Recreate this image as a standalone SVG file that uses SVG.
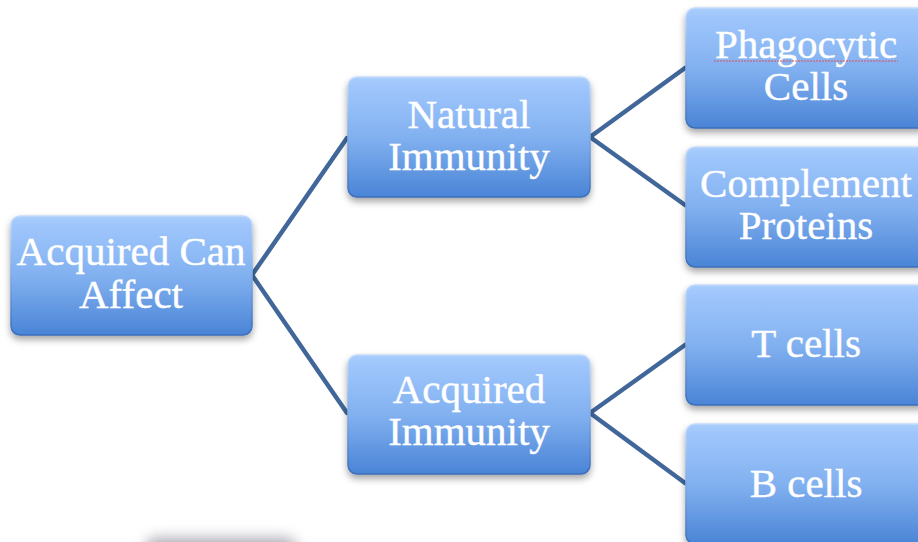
<svg xmlns="http://www.w3.org/2000/svg" width="918" height="542" viewBox="0 0 918 542">
  <defs>
    <linearGradient id="fillG" x1="0" y1="0" x2="0" y2="1">
      <stop offset="0" stop-color="#a9cdfd"/>
      <stop offset="0.08" stop-color="#9fc6fc"/>
      <stop offset="0.5" stop-color="#82b1f0"/>
      <stop offset="1" stop-color="#4a84d6"/>
    </linearGradient>
    <linearGradient id="edgeG" x1="0" y1="0" x2="0" y2="1">
      <stop offset="0" stop-color="#c4dcfb"/>
      <stop offset="0.5" stop-color="#7ea9e4"/>
      <stop offset="1" stop-color="#3a6db8"/>
    </linearGradient>
    <filter id="shadow" x="-10%" y="-10%" width="120%" height="130%">
      <feDropShadow dx="0" dy="4" stdDeviation="3.5" flood-color="#000" flood-opacity="0.35"/>
    </filter>
    <filter id="blur" x="-40%" y="-150%" width="180%" height="400%">
      <feGaussianBlur stdDeviation="7"/>
    </filter>
  </defs>
  <style>
    .box { fill: url(#fillG); stroke: url(#edgeG); stroke-width: 1.5; filter: url(#shadow); }
    .lbl { font-family: "Liberation Serif", "Times New Roman", serif; font-size: 41px; fill: #ffffff; stroke: #ffffff; stroke-width: 0.4; text-anchor: middle; }
    .conn { stroke: #41679a; stroke-width: 4.5; fill: none; stroke-linecap: round; stroke-linejoin: round; }
  </style>

  <rect x="0" y="0" width="918" height="542" fill="#ffffff"/>

  <!-- offscreen shadow at bottom -->
  <rect x="145" y="538" width="152" height="30" rx="12" fill="#7d7d8c" opacity="0.65" filter="url(#blur)"/>

  <g id="connectors">
    <polyline class="conn" points="347,138 252,275 347,413"/>
    <polyline class="conn" points="685,68 590,137 685,205"/>
    <polyline class="conn" points="685,345 590,413 685,483"/>
  </g>

  <g id="root">
    <rect class="box" x="11" y="216" width="241" height="119" rx="9"/>
    <text class="lbl" x="131" y="265">Acquired Can</text>
    <text class="lbl" x="131" y="308">Affect</text>
  </g>

  <g id="natural">
    <rect class="box" x="348" y="77" width="242" height="120" rx="9"/>
    <text class="lbl" x="469" y="128">Natural</text>
    <text class="lbl" x="469" y="170">Immunity</text>
  </g>

  <g id="acquired">
    <rect class="box" x="348" y="355" width="242" height="119" rx="9"/>
    <text class="lbl" x="469" y="403">Acquired</text>
    <text class="lbl" x="469" y="445">Immunity</text>
  </g>

  <g id="phagocytic">
    <rect class="box" x="686" y="8" width="242" height="120" rx="9"/>
    <text class="lbl" x="806" y="58">Phagocytic</text>
    <path d="M714,61 L898,61" stroke="#e0505a" stroke-width="1" fill="none" stroke-dasharray="2,1"/>
    <text class="lbl" x="806" y="100">Cells</text>
  </g>

  <g id="complement">
    <rect class="box" x="686" y="147" width="242" height="120" rx="9"/>
    <text class="lbl" x="806" y="197">Complement</text>
    <text class="lbl" x="806" y="239">Proteins</text>
  </g>

  <g id="tcells">
    <rect class="box" x="686" y="285" width="242" height="120" rx="9"/>
    <text class="lbl" x="806" y="357">T cells</text>
  </g>

  <g id="bcells">
    <rect class="box" x="686" y="424" width="242" height="120" rx="9"/>
    <text class="lbl" x="806" y="497">B cells</text>
  </g>
</svg>
